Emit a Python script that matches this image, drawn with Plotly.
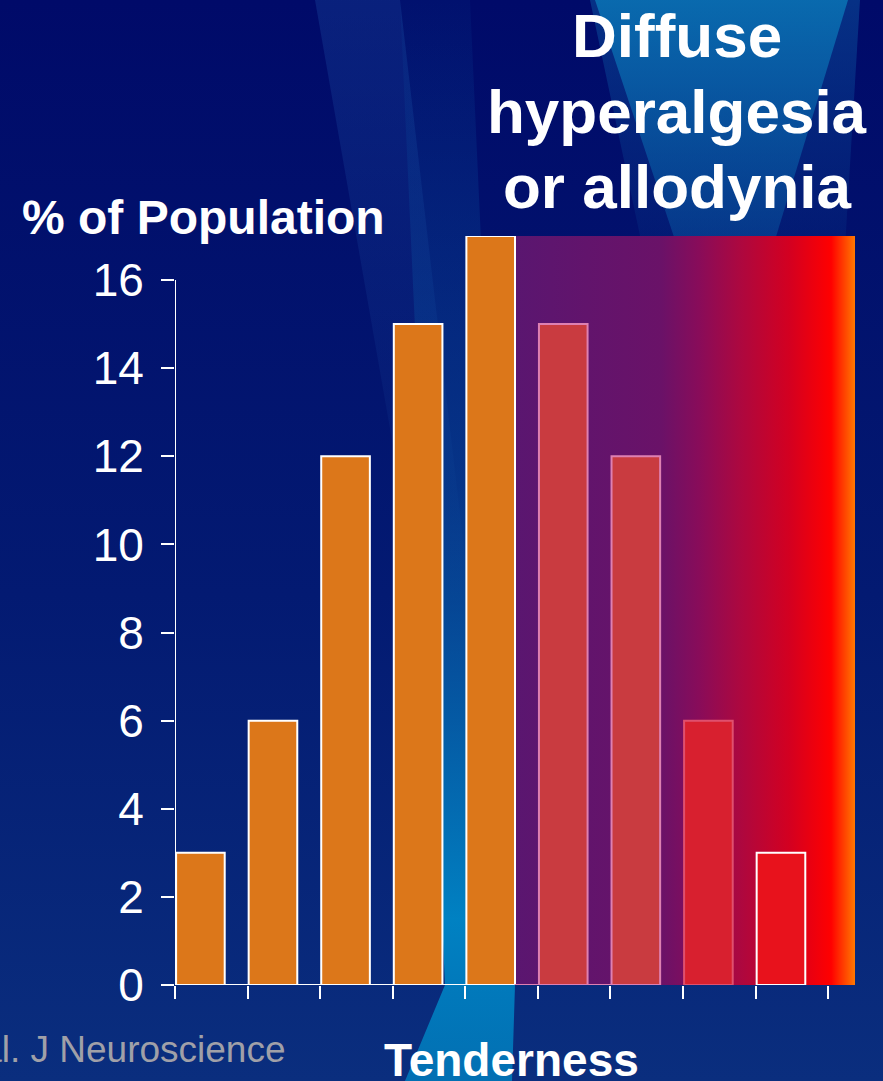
import base64
import plotly.graph_objects as go

# ---------------- data ----------------
bin_edges = list(range(0, 10))                 # tenderness bin edges (x ticks)
population_pct = [3, 6, 12, 15, 17, 15, 12, 6, 3]
y_ticks = [0, 2, 4, 6, 8, 10, 12, 14, 16]
bar_fill = ["#DC771A", "#DC771A", "#DC771A", "#DC771A", "#DC771A",
            "#C93B40", "#C93B40", "#D8202F", "#E8121C"]
bar_edge = ["#FFFFFF", "#FFFFFF", "#FFFFFF", "#FFFFFF", "#FFFFFF",
            "#DE80B2", "#DE80B2", "#E0506E", "#FFFFFF"]
title_lines = ["Diffuse", "hyperalgesia", "or allodynia"]
y_title = "% of Population"
x_title = "Tenderness"
citation = "et al. J Neuroscience"

# ---------------- geometry ----------------
W, H = 883, 1081
L, R, T, B = 175, 28, 236, 96
PW, PH = W - L - R, H - T - B
x_max = 9.37
y_max = max(population_pct)
overlay_x0 = 4.68

def px(xp):
    return (xp - L) / PW

def py(yp):
    return (H - B - yp) / PH

def svg_uri(svg):
    return "data:image/svg+xml;base64," + base64.b64encode(svg.encode()).decode()

bg_svg = f'''<svg xmlns="http://www.w3.org/2000/svg" width="{W}" height="{H}" viewBox="0 0 {W} {H}">
<defs>
<linearGradient id="base" x1="0" y1="0" x2="0" y2="1">
<stop offset="0" stop-color="#000a69"/><stop offset="0.55" stop-color="#031a72"/><stop offset="1" stop-color="#0a2e7e"/>
</linearGradient>
<linearGradient id="beam0" x1="0" y1="0" x2="0" y2="1">
<stop offset="0" stop-color="#1a4aa0" stop-opacity="0.35"/><stop offset="1" stop-color="#1a4aa0" stop-opacity="0.05"/>
</linearGradient>
<linearGradient id="beam1" x1="0" y1="0" x2="0" y2="1">
<stop offset="0" stop-color="#0a50a0" stop-opacity="0.1"/><stop offset="0.45" stop-color="#0a58a4" stop-opacity="0.45"/><stop offset="0.85" stop-color="#0086c6" stop-opacity="0.95"/><stop offset="1" stop-color="#0080c0" stop-opacity="0.8"/>
</linearGradient>
<linearGradient id="beam2" x1="0" y1="0" x2="0" y2="1">
<stop offset="0" stop-color="#0a78b8" stop-opacity="0.8"/><stop offset="1" stop-color="#0a62aa" stop-opacity="0.4"/>
</linearGradient>
<linearGradient id="beam3" x1="0" y1="0" x2="0" y2="1">
<stop offset="0" stop-color="#0a4a98" stop-opacity="0.6"/><stop offset="1" stop-color="#0a4a98" stop-opacity="0.0"/>
</linearGradient>
</defs>
<rect width="{W}" height="{H}" fill="url(#base)"/>
<polygon points="315,0 400,0 470,600 420,600" fill="url(#beam0)"/>
<polygon points="590,0 860,0 840,330 660,330" fill="url(#beam3)"/>
<polygon points="400,0 470,0 515,985 512,1081 405,1081 445,985" fill="url(#beam1)"/>
<polygon points="595,0 848,0 775,240 675,240" fill="url(#beam2)"/>
</svg>'''

ov_svg = '''<svg xmlns="http://www.w3.org/2000/svg" width="340" height="752" viewBox="0 0 340 752" preserveAspectRatio="none">
<defs><linearGradient id="g" x1="0" y1="0" x2="1" y2="0">
<stop offset="0" stop-color="#5a1670"/><stop offset="0.43" stop-color="#6a1268"/>
<stop offset="0.54" stop-color="#880c5a"/><stop offset="0.66" stop-color="#ac0840"/>
<stop offset="0.81" stop-color="#d40020"/><stop offset="0.93" stop-color="#ff0000"/>
<stop offset="1" stop-color="#ff7800"/></linearGradient></defs>
<rect width="340" height="752" fill="url(#g)"/></svg>'''

bar_x = [e + 0.35 for e in bin_edges[:-1]]

fig = go.Figure()
fig.add_trace(go.Bar(
    x=bar_x, y=population_pct, width=0.67,
    marker=dict(color=bar_fill, line=dict(color=bar_edge, width=2)),
    hoverinfo="skip",
))

font_fam = "Liberation Sans, Arial, sans-serif"

annotations = []
for i, line in enumerate(title_lines):
    annotations.append(dict(
        text=line, xref="paper", yref="paper", x=px(677), y=py(36 + 75 * i),
        xanchor="center", yanchor="middle", showarrow=False,
        font=dict(size=62, color="white", family=font_fam, weight="bold")))
annotations += [
    dict(text=y_title, xref="paper", yref="paper", x=px(20), y=py(218),
         xanchor="left", yanchor="middle", showarrow=False,
         font=dict(size=48, color="white", family=font_fam, weight="bold")),
    dict(text=x_title, xref="paper", yref="paper", x=px(511), y=py(1060),
         xanchor="center", yanchor="middle", showarrow=False,
         font=dict(size=46, color="white", family=font_fam, weight="bold")),
    dict(text=citation, xref="paper", yref="paper", x=px(288), y=py(1049),
         xanchor="right", yanchor="middle", showarrow=False,
         font=dict(size=37, color="#a0a0a8", family=font_fam)),
]

fig.update_layout(
    width=W, height=H,
    margin=dict(l=L, r=R, t=T, b=B),
    paper_bgcolor="#000a69",
    plot_bgcolor="rgba(0,0,0,0)",
    showlegend=False,
    font=dict(family=font_fam, color="white"),
    xaxis=dict(range=[0, x_max], tickvals=bin_edges, ticks="outside", ticklen=13,
               tickwidth=2, tickcolor="white", showticklabels=False,
               showline=False, showgrid=False, zeroline=False, fixedrange=True),
    yaxis=dict(range=[0, y_max], tickvals=y_ticks, ticks="outside", ticklen=13,
               tickwidth=2, tickcolor="white", ticklabelstandoff=8,
               tickfont=dict(size=46, color="white", family=font_fam),
               showline=False, showgrid=False, zeroline=False, fixedrange=True),
    images=[
        dict(source=svg_uri(bg_svg), xref="paper", yref="paper",
             x=px(0), y=py(0), sizex=W / PW, sizey=H / PH,
             xanchor="left", yanchor="top", sizing="stretch", layer="below"),
        dict(source=svg_uri(ov_svg), xref="x", yref="y",
             x=overlay_x0, y=y_max, sizex=x_max - overlay_x0, sizey=y_max,
             xanchor="left", yanchor="top", sizing="stretch", layer="below"),
    ],
    shapes=[
        dict(type="line", xref="x", yref="y", x0=0, x1=0, y0=y_ticks[0], y1=y_ticks[-1],
             line=dict(color="white", width=2), layer="above"),
        dict(type="line", xref="x", yref="y", x0=0, x1=overlay_x0, y0=0, y1=0,
             line=dict(color="white", width=2), layer="above"),
        dict(type="line", xref="x", yref="y", x0=overlay_x0, x1=bin_edges[6] + 0.68, y0=0, y1=0,
             line=dict(color="#DE80B2", width=2), layer="above"),
    ],
    annotations=annotations,
)

fig.write_html("out.html")
